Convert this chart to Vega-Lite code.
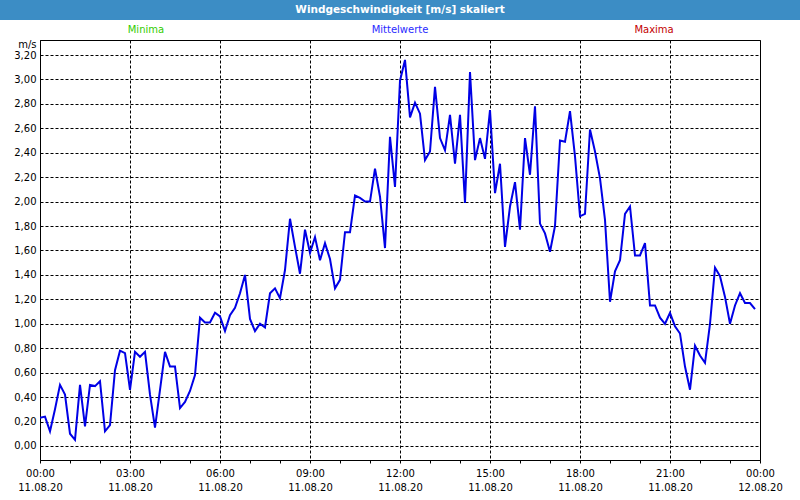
{
  "$schema": "https://vega.github.io/schema/vega-lite/v6.json",
  "padding": 0,
  "background": "white",
  "spacing": 0,
  "center": true,
  "bounds": "flush",
  "config": {"font": "DejaVu Sans"},
  "vconcat": [
    {
      "width": 800,
      "height": 20,
      "view": {"fill": "#3c8dc5", "stroke": null},
      "data": {"values": [{"title": "Windgeschwindigkeit [m/s] skaliert"}]},
      "mark": {"type": "text", "color": "white", "fontWeight": "bold", "fontSize": 10.5, "font": "DejaVu Sans"},
      "encoding": {"text": {"field": "title", "type": "nominal"}}
    },
    {
      "width": 720,
      "height": 20,
      "view": {"stroke": null},
      "data": {"values": [{"label": "Minima"}, {"label": "Mittelwerte"}, {"label": "Maxima"}]},
      "mark": {"type": "text", "fontSize": 10, "font": "DejaVu Sans"},
      "encoding": {
        "x": {"field": "label", "type": "nominal", "sort": ["Minima", "Mittelwerte", "Maxima"], "scale": {"type": "point", "padding": 0.417}, "axis": null},
        "color": {"field": "label", "type": "nominal", "scale": {"domain": ["Minima", "Mittelwerte", "Maxima"], "range": ["#33cc00", "#2a2aff", "#c40000"]}, "legend": null},
        "text": {"field": "label", "type": "nominal"}
      }
    },
    {
      "width": 720,
      "height": 420,
      "view": {"stroke": "black", "strokeWidth": 1, "fill": "white"},
      "data": {"values": [
        {"time": "2020-08-11T00:00", "value": 0.23}, {"time": "2020-08-11T00:10", "value": 0.24}, {"time": "2020-08-11T00:20", "value": 0.12}, {"time": "2020-08-11T00:30", "value": 0.30}, {"time": "2020-08-11T00:40", "value": 0.50}, {"time": "2020-08-11T00:50", "value": 0.42},
        {"time": "2020-08-11T01:00", "value": 0.10}, {"time": "2020-08-11T01:10", "value": 0.05}, {"time": "2020-08-11T01:20", "value": 0.50}, {"time": "2020-08-11T01:30", "value": 0.16}, {"time": "2020-08-11T01:40", "value": 0.50}, {"time": "2020-08-11T01:50", "value": 0.49},
        {"time": "2020-08-11T02:00", "value": 0.53}, {"time": "2020-08-11T02:10", "value": 0.12}, {"time": "2020-08-11T02:20", "value": 0.17}, {"time": "2020-08-11T02:30", "value": 0.62}, {"time": "2020-08-11T02:40", "value": 0.78}, {"time": "2020-08-11T02:50", "value": 0.76},
        {"time": "2020-08-11T03:00", "value": 0.46}, {"time": "2020-08-11T03:10", "value": 0.77}, {"time": "2020-08-11T03:20", "value": 0.73}, {"time": "2020-08-11T03:30", "value": 0.77}, {"time": "2020-08-11T03:40", "value": 0.42}, {"time": "2020-08-11T03:50", "value": 0.15},
        {"time": "2020-08-11T04:00", "value": 0.46}, {"time": "2020-08-11T04:10", "value": 0.77}, {"time": "2020-08-11T04:20", "value": 0.65}, {"time": "2020-08-11T04:30", "value": 0.65}, {"time": "2020-08-11T04:40", "value": 0.31}, {"time": "2020-08-11T04:50", "value": 0.36},
        {"time": "2020-08-11T05:00", "value": 0.45}, {"time": "2020-08-11T05:10", "value": 0.58}, {"time": "2020-08-11T05:20", "value": 1.05}, {"time": "2020-08-11T05:30", "value": 1.01}, {"time": "2020-08-11T05:40", "value": 1.01}, {"time": "2020-08-11T05:50", "value": 1.09},
        {"time": "2020-08-11T06:00", "value": 1.06}, {"time": "2020-08-11T06:10", "value": 0.94}, {"time": "2020-08-11T06:20", "value": 1.07}, {"time": "2020-08-11T06:30", "value": 1.13}, {"time": "2020-08-11T06:40", "value": 1.25}, {"time": "2020-08-11T06:50", "value": 1.40},
        {"time": "2020-08-11T07:00", "value": 1.04}, {"time": "2020-08-11T07:10", "value": 0.94}, {"time": "2020-08-11T07:20", "value": 1.00}, {"time": "2020-08-11T07:30", "value": 0.97}, {"time": "2020-08-11T07:40", "value": 1.25}, {"time": "2020-08-11T07:50", "value": 1.29},
        {"time": "2020-08-11T08:00", "value": 1.21}, {"time": "2020-08-11T08:10", "value": 1.44}, {"time": "2020-08-11T08:20", "value": 1.86}, {"time": "2020-08-11T08:30", "value": 1.63}, {"time": "2020-08-11T08:40", "value": 1.41}, {"time": "2020-08-11T08:50", "value": 1.77},
        {"time": "2020-08-11T09:00", "value": 1.58}, {"time": "2020-08-11T09:10", "value": 1.71}, {"time": "2020-08-11T09:20", "value": 1.52}, {"time": "2020-08-11T09:30", "value": 1.66}, {"time": "2020-08-11T09:40", "value": 1.53}, {"time": "2020-08-11T09:50", "value": 1.29},
        {"time": "2020-08-11T10:00", "value": 1.36}, {"time": "2020-08-11T10:10", "value": 1.75}, {"time": "2020-08-11T10:20", "value": 1.75}, {"time": "2020-08-11T10:30", "value": 2.05}, {"time": "2020-08-11T10:40", "value": 2.03}, {"time": "2020-08-11T10:50", "value": 2.00},
        {"time": "2020-08-11T11:00", "value": 2.00}, {"time": "2020-08-11T11:10", "value": 2.27}, {"time": "2020-08-11T11:20", "value": 2.04}, {"time": "2020-08-11T11:30", "value": 1.62}, {"time": "2020-08-11T11:40", "value": 2.53}, {"time": "2020-08-11T11:50", "value": 2.12},
        {"time": "2020-08-11T12:00", "value": 2.99}, {"time": "2020-08-11T12:10", "value": 3.16}, {"time": "2020-08-11T12:20", "value": 2.69}, {"time": "2020-08-11T12:30", "value": 2.81}, {"time": "2020-08-11T12:40", "value": 2.72}, {"time": "2020-08-11T12:50", "value": 2.34},
        {"time": "2020-08-11T13:00", "value": 2.41}, {"time": "2020-08-11T13:10", "value": 2.94}, {"time": "2020-08-11T13:20", "value": 2.52}, {"time": "2020-08-11T13:30", "value": 2.42}, {"time": "2020-08-11T13:40", "value": 2.71}, {"time": "2020-08-11T13:50", "value": 2.31},
        {"time": "2020-08-11T14:00", "value": 2.71}, {"time": "2020-08-11T14:10", "value": 1.99}, {"time": "2020-08-11T14:20", "value": 3.06}, {"time": "2020-08-11T14:30", "value": 2.34}, {"time": "2020-08-11T14:40", "value": 2.52}, {"time": "2020-08-11T14:50", "value": 2.35},
        {"time": "2020-08-11T15:00", "value": 2.75}, {"time": "2020-08-11T15:10", "value": 2.07}, {"time": "2020-08-11T15:20", "value": 2.31}, {"time": "2020-08-11T15:30", "value": 1.63}, {"time": "2020-08-11T15:40", "value": 1.96}, {"time": "2020-08-11T15:50", "value": 2.16},
        {"time": "2020-08-11T16:00", "value": 1.77}, {"time": "2020-08-11T16:10", "value": 2.52}, {"time": "2020-08-11T16:20", "value": 2.22}, {"time": "2020-08-11T16:30", "value": 2.78}, {"time": "2020-08-11T16:40", "value": 1.82}, {"time": "2020-08-11T16:50", "value": 1.74},
        {"time": "2020-08-11T17:00", "value": 1.59}, {"time": "2020-08-11T17:10", "value": 1.80}, {"time": "2020-08-11T17:20", "value": 2.50}, {"time": "2020-08-11T17:30", "value": 2.49}, {"time": "2020-08-11T17:40", "value": 2.74}, {"time": "2020-08-11T17:50", "value": 2.37},
        {"time": "2020-08-11T18:00", "value": 1.88}, {"time": "2020-08-11T18:10", "value": 1.90}, {"time": "2020-08-11T18:20", "value": 2.59}, {"time": "2020-08-11T18:30", "value": 2.41}, {"time": "2020-08-11T18:40", "value": 2.19}, {"time": "2020-08-11T18:50", "value": 1.85},
        {"time": "2020-08-11T19:00", "value": 1.18}, {"time": "2020-08-11T19:10", "value": 1.43}, {"time": "2020-08-11T19:20", "value": 1.52}, {"time": "2020-08-11T19:30", "value": 1.90}, {"time": "2020-08-11T19:40", "value": 1.96}, {"time": "2020-08-11T19:50", "value": 1.56},
        {"time": "2020-08-11T20:00", "value": 1.56}, {"time": "2020-08-11T20:10", "value": 1.66}, {"time": "2020-08-11T20:20", "value": 1.15}, {"time": "2020-08-11T20:30", "value": 1.15}, {"time": "2020-08-11T20:40", "value": 1.05}, {"time": "2020-08-11T20:50", "value": 1.00},
        {"time": "2020-08-11T21:00", "value": 1.09}, {"time": "2020-08-11T21:10", "value": 0.98}, {"time": "2020-08-11T21:20", "value": 0.92}, {"time": "2020-08-11T21:30", "value": 0.65}, {"time": "2020-08-11T21:40", "value": 0.46}, {"time": "2020-08-11T21:50", "value": 0.82},
        {"time": "2020-08-11T22:00", "value": 0.74}, {"time": "2020-08-11T22:10", "value": 0.68}, {"time": "2020-08-11T22:20", "value": 1.00}, {"time": "2020-08-11T22:30", "value": 1.46}, {"time": "2020-08-11T22:40", "value": 1.39}, {"time": "2020-08-11T22:50", "value": 1.22},
        {"time": "2020-08-11T23:00", "value": 1.00}, {"time": "2020-08-11T23:10", "value": 1.15}, {"time": "2020-08-11T23:20", "value": 1.25}, {"time": "2020-08-11T23:30", "value": 1.17}, {"time": "2020-08-11T23:40", "value": 1.17}, {"time": "2020-08-11T23:50", "value": 1.12}
      ]},
      "mark": {"type": "line", "color": "#0000e6", "strokeWidth": 2, "clip": true},
      "encoding": {
        "x": {
          "field": "time",
          "type": "temporal",
          "scale": {"domain": [{"year": 2020, "month": 8, "date": 11, "hours": 0}, {"year": 2020, "month": 8, "date": 12, "hours": 0}], "nice": false},
          "axis": {
            "title": null,
            "values": [
              {"year": 2020, "month": 8, "date": 11, "hours": 0}, {"year": 2020, "month": 8, "date": 11, "hours": 1}, {"year": 2020, "month": 8, "date": 11, "hours": 2},
              {"year": 2020, "month": 8, "date": 11, "hours": 3}, {"year": 2020, "month": 8, "date": 11, "hours": 4}, {"year": 2020, "month": 8, "date": 11, "hours": 5},
              {"year": 2020, "month": 8, "date": 11, "hours": 6}, {"year": 2020, "month": 8, "date": 11, "hours": 7}, {"year": 2020, "month": 8, "date": 11, "hours": 8},
              {"year": 2020, "month": 8, "date": 11, "hours": 9}, {"year": 2020, "month": 8, "date": 11, "hours": 10}, {"year": 2020, "month": 8, "date": 11, "hours": 11},
              {"year": 2020, "month": 8, "date": 11, "hours": 12}, {"year": 2020, "month": 8, "date": 11, "hours": 13}, {"year": 2020, "month": 8, "date": 11, "hours": 14},
              {"year": 2020, "month": 8, "date": 11, "hours": 15}, {"year": 2020, "month": 8, "date": 11, "hours": 16}, {"year": 2020, "month": 8, "date": 11, "hours": 17},
              {"year": 2020, "month": 8, "date": 11, "hours": 18}, {"year": 2020, "month": 8, "date": 11, "hours": 19}, {"year": 2020, "month": 8, "date": 11, "hours": 20},
              {"year": 2020, "month": 8, "date": 11, "hours": 21}, {"year": 2020, "month": 8, "date": 11, "hours": 22}, {"year": 2020, "month": 8, "date": 11, "hours": 23},
              {"year": 2020, "month": 8, "date": 12, "hours": 0}
            ],
            "labelExpr": "hours(datum.value) % 3 === 0 ? [timeFormat(datum.value, '%H:%M'), timeFormat(datum.value, '%d.%m.%y')] : ''",
            "labelOverlap": false,
            "labelFlush": false,
            "labelBound": false,
            "labelFont": "DejaVu Sans",
            "labelFontSize": 10,
            "labelColor": "black",
            "labelPadding": 5,
            "labelLineHeight": 14,
            "labelBaseline": "top",
            "tickSize": 3,
            "tickColor": "black",
            "domainColor": "black",
            "grid": true,
            "gridDash": [3, 2],
            "gridColor": {"condition": {"test": "hours(datum.value) % 3 === 0", "value": "black"}, "value": "transparent"}
          }
        },
        "y": {
          "field": "value",
          "type": "quantitative",
          "scale": {"domain": [-0.115, 3.323], "nice": false, "zero": false},
          "axis": {
            "title": "m/s",
            "titleAngle": 0,
            "titleAlign": "right",
            "titleBaseline": "alphabetic",
            "titleX": -4,
            "titleY": 7,
            "titleFont": "DejaVu Sans",
            "titleFontWeight": "normal",
            "titleFontSize": 10,
            "titleColor": "black",
            "values": [0, 0.2, 0.4, 0.6, 0.8, 1.0, 1.2, 1.4, 1.6, 1.8, 2.0, 2.2, 2.4, 2.6, 2.8, 3.0, 3.2],
            "labelExpr": "replace(format(datum.value, '.2f'), '.', ',')",
            "labelFont": "DejaVu Sans",
            "labelFontSize": 10,
            "labelColor": "black",
            "labelPadding": 4,
            "ticks": false,
            "domainColor": "black",
            "grid": true,
            "gridColor": "black",
            "gridDash": [3, 2]
          }
        }
      }
    }
  ]
}
